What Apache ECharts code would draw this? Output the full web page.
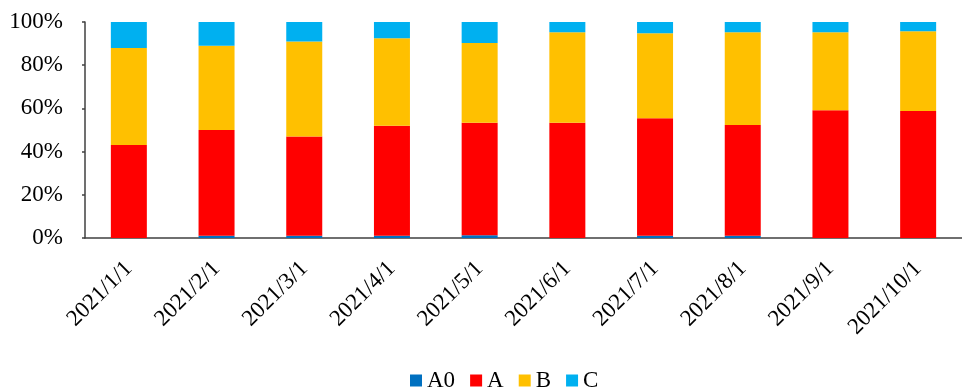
<!DOCTYPE html>
<html>
<head>
<meta charset="utf-8">
<script src="https://cdn.jsdelivr.net/npm/echarts@6/dist/echarts.min.js"></script>
<style>
  html, body { margin: 0; padding: 0; background: #fff; }
  #chart { width: 962px; height: 387px; }
</style>
</head>
<body>
<div id="chart"></div>
<script>
const categories = ['2021/1/1', '2021/2/1', '2021/3/1', '2021/4/1', '2021/5/1',
  '2021/6/1', '2021/7/1', '2021/8/1', '2021/9/1', '2021/10/1']
const a0Data = [0, 1, 1, 1, 1.3, 0, 1, 1, 0, 0]
const aData = [43, 49, 46, 51, 52, 53.4, 54.4, 51.3, 59.1, 58.8]
const bData = [45, 39, 44, 40.5, 37, 41.8, 39.4, 42.9, 36.1, 36.9]
const cData = [12, 11, 9, 7.5, 9.7, 4.8, 5.2, 4.8, 4.8, 4.3]
const yTicks = [0, 20, 40, 60, 80, 100]

const font = 'Liberation Serif'
const chart = echarts.init(document.getElementById('chart'))

function barSeries(name, data, color) {
  return {
    name: name,
    type: 'bar',
    stack: 'total',
    barWidth: 36,
    data: data,
    itemStyle: { color: color },
    emphasis: { disabled: true }
  }
}

chart.setOption({
  animation: false,
  textStyle: { fontFamily: font },
  grid: { left: 85, right: -7, top: 22, bottom: 149 },
  legend: {
    top: 364,
    left: 405,
    itemWidth: 12,
    itemHeight: 12,
    itemGap: 15,
    icon: 'rect',
    textStyle: { fontFamily: font, fontSize: 23, color: '#000' },
    data: ['A0', 'A', 'B', 'C']
  },
  xAxis: {
    type: 'category',
    data: categories,
    boundaryGap: true,
    axisLine: { lineStyle: { color: '#404040', width: 1.5 } },
    axisTick: { inside: true, length: 7, lineStyle: { color: '#404040', width: 1.5 } },
    axisLabel: {
      interval: 0,
      rotate: 45,
      margin: 27,
      fontFamily: font,
      fontSize: 23,
      color: '#000'
    }
  },
  yAxis: {
    type: 'value',
    min: yTicks[0],
    max: yTicks[yTicks.length - 1],
    interval: 20,
    splitLine: { show: false },
    axisLine: { show: true, lineStyle: { color: '#404040', width: 1.5 } },
    axisTick: { show: true, length: 3, lineStyle: { color: '#404040', width: 1.5 } },
    axisLabel: {
      margin: 22,
      fontFamily: font,
      fontSize: 23,
      color: '#000',
      formatter: '{value}%'
    }
  },
  series: [
    barSeries('A0', a0Data, '#0070C0'),
    barSeries('A', aData, '#FF0000'),
    barSeries('B', bData, '#FFC000'),
    barSeries('C', cData, '#00B0F0')
  ]
})
</script>
</body>
</html>
